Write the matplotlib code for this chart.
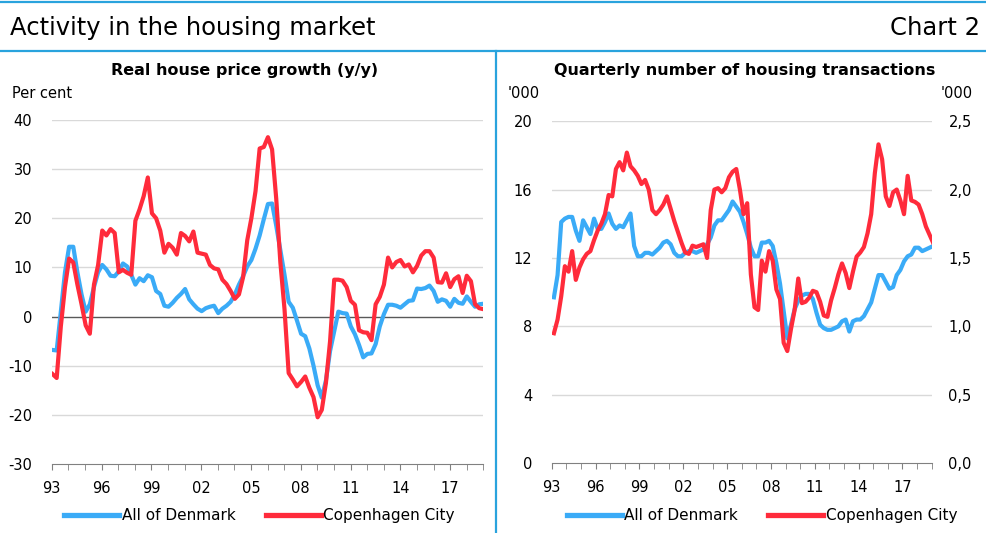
import numpy as np
import matplotlib
matplotlib.use("Agg")
import matplotlib.pyplot as plt
from matplotlib.lines import Line2D
from matplotlib.ticker import FuncFormatter

# Real house price growth, per cent y/y (quarterly, 1993Q1 - 2019Q1)
price_denmark = [
    -6.8, -6.9, 1.0, 9.0, 14.2, 14.2, 9.0, 4.5, 1.0, 2.5, 6.0, 9.0,
    10.5, 9.6, 8.3, 8.2, 9.2, 10.8, 10.2, 8.5, 6.5, 7.8, 7.2, 8.4,
    8.0, 5.2, 4.6, 2.2, 2.0, 2.8, 3.8, 4.6, 5.6, 3.5, 2.5, 1.6,
    1.1, 1.7, 2.0, 2.2, 0.7, 1.6, 2.2, 3.0, 4.5, 6.5, 8.2, 10.2,
    11.5, 13.8, 16.5, 19.8, 22.9, 23.0, 18.5, 13.5, 8.5, 3.0, 1.8, -0.8,
    -3.5, -4.0, -6.5, -10.0, -14.0, -16.5, -13.0, -7.0, -3.0, 1.0, 0.7, 0.6,
    -2.0, -3.6, -5.8, -8.3, -7.6, -7.5, -5.6, -2.0, 0.5, 2.4, 2.4, 2.2,
    1.8, 2.5, 3.2, 3.3, 5.7, 5.6, 5.8, 6.3, 5.2, 3.0, 3.5, 3.2,
    2.0, 3.6, 2.8, 2.6, 4.1, 3.0, 2.0, 2.5, 2.6]
price_copenhagen = [
    -11.7, -12.5, -2.0, 6.0, 11.8, 11.0, 6.5, 2.5, -1.8, -3.5, 6.5, 10.5,
    17.5, 16.5, 17.8, 17.0, 9.0, 9.5, 8.9, 8.5, 19.5, 21.8, 24.5, 28.3,
    21.0, 20.0, 17.5, 13.0, 14.8, 14.0, 12.6, 17.0, 16.4, 15.3, 17.3, 13.0,
    12.8, 12.6, 10.5, 9.8, 9.6, 7.5, 6.6, 5.2, 3.6, 4.5, 8.0, 15.5,
    20.0, 25.5, 34.2, 34.5, 36.5, 34.0, 24.0, 11.0, 1.5, -11.5, -12.8, -14.2,
    -13.3, -12.2, -14.5, -16.4, -20.5, -19.0, -13.5, -5.0, 7.5, 7.5, 7.3, 6.0,
    3.2, 2.4, -2.8, -3.2, -3.3, -4.8, 2.5, 4.0, 6.5, 12.0, 10.0, 11.1,
    11.5, 10.2, 10.6, 9.0, 10.3, 12.4, 13.3, 13.3, 12.0, 7.0, 6.9, 8.8,
    6.0, 7.6, 8.2, 4.8, 8.3, 7.2, 2.5, 1.7, 1.5]

# Quarterly number of housing transactions, '000
trans_denmark = [
    9.7, 11.0, 14.1, 14.3, 14.4, 14.4, 13.6, 13.0, 14.2, 13.8, 13.4, 14.3,
    13.7, 13.7, 14.1, 14.6, 14.0, 13.7, 13.9, 13.8, 14.2, 14.6, 12.7, 12.1,
    12.1, 12.3, 12.3, 12.2, 12.4, 12.6, 12.9, 13.0, 12.8, 12.3, 12.1, 12.1,
    12.3, 12.4, 12.4, 12.3, 12.4, 12.5, 12.8, 13.2, 13.9, 14.2, 14.2, 14.5,
    14.8, 15.3, 15.0, 14.7, 14.1, 13.4, 12.6, 12.1, 12.1, 12.9, 12.9, 13.0,
    12.7, 11.7, 10.5, 8.9, 7.3, 8.1, 9.0, 9.5, 9.8, 9.9, 9.9, 9.6,
    8.8, 8.1, 7.9, 7.8, 7.8, 7.9, 8.0, 8.3, 8.4, 7.7, 8.3, 8.4,
    8.4, 8.6, 9.0, 9.4, 10.2, 11.0, 11.0, 10.6, 10.2, 10.3, 11.0, 11.3,
    11.8, 12.1, 12.2, 12.6, 12.6, 12.4, 12.5, 12.6, 12.7]
trans_copenhagen = [
    0.95, 1.05, 1.22, 1.44, 1.40, 1.55, 1.34, 1.43, 1.49, 1.53, 1.55, 1.63,
    1.70, 1.75, 1.82, 1.96, 1.95, 2.15, 2.20, 2.14, 2.27, 2.17, 2.14, 2.10,
    2.04, 2.07, 2.00, 1.85, 1.82, 1.85, 1.89, 1.95, 1.86, 1.77, 1.69, 1.61,
    1.54, 1.53, 1.59, 1.58, 1.59, 1.60, 1.50, 1.85, 2.00, 2.01, 1.98, 2.01,
    2.09, 2.13, 2.15, 2.00, 1.82, 1.90, 1.38, 1.14, 1.12, 1.48, 1.40, 1.55,
    1.48, 1.27, 1.20, 0.88, 0.82, 0.98, 1.12, 1.35, 1.17, 1.18, 1.21, 1.26,
    1.25, 1.18, 1.08, 1.07, 1.19, 1.28, 1.38, 1.46, 1.39, 1.28, 1.40, 1.51,
    1.54, 1.58, 1.68, 1.82, 2.12, 2.33, 2.22, 1.95, 1.88, 1.98, 2.00, 1.92,
    1.82, 2.10, 1.92, 1.91, 1.89, 1.82, 1.73, 1.67, 1.61]

year_labels = ['93', '96', '99', '02', '05', '08', '11', '14', '17']
series_names = ['All of Denmark', 'Copenhagen City']

BLUE = '#3AABF7'
RED = '#FF2B3B'
FRAME = '#29A3DD'
GRID = '#D9D9D9'

plt.rcParams['font.family'] = 'DejaVu Sans'
plt.rcParams['font.size'] = 10.5
plt.rcParams['axes.unicode_minus'] = False

t_left = np.linspace(1993.05, 2019.0, len(price_denmark))
t_right = np.linspace(1993.15, 2019.1, len(trans_denmark))

fig = plt.figure(figsize=(9.87, 5.33), dpi=100)

# frame lines and header
fig.add_artist(Line2D([0, 1], [0.996, 0.996], color=FRAME, lw=1.6))
fig.add_artist(Line2D([0, 1], [0.905, 0.905], color=FRAME, lw=1.6))
fig.add_artist(Line2D([0.5025, 0.5025], [0, 0.905], color=FRAME, lw=1.6))
fig.text(0.010, 0.948, 'Activity in the housing market', fontsize=17.5, va='center')
fig.text(0.993, 0.948, 'Chart 2', fontsize=17.5, va='center', ha='right')


def style_xaxis(ax):
    ax.set_xlim(1993, 2019)
    ax.set_xticks(np.arange(1993, 2020), minor=True)
    ax.set_xticks(np.arange(1993, 2018, 3))
    ax.set_xticklabels(year_labels)
    ax.tick_params(axis='x', which='both', length=4, color='#808080', pad=8)
    for s in ['top', 'left', 'right']:
        ax.spines[s].set_visible(False)
    ax.spines['bottom'].set_color('#808080')


def add_legend(ax, xc):
    ax.legend([Line2D([], [], color=BLUE, lw=3.8), Line2D([], [], color=RED, lw=3.8)],
              series_names, ncol=2, frameon=False, fontsize=11, handlelength=3.6,
              handletextpad=0.15, columnspacing=2.0, loc='center',
              bbox_to_anchor=(xc, 0.032), bbox_transform=fig.transFigure)


# left panel
ax1 = fig.add_axes([0.0524, 0.1295, 0.4373, 0.6454])
ax1.plot(t_left, price_denmark, color=BLUE, lw=3.0, solid_joinstyle='round')
ax1.plot(t_left, price_copenhagen, color=RED, lw=3.0, solid_joinstyle='round')
ax1.set_ylim(-30, 40)
ax1.set_yticks(np.arange(-30, 41, 10))
for v in range(-20, 41, 10):
    ax1.axhline(v, color='#595959' if v == 0 else GRID, lw=1.0, zorder=0)
ax1.tick_params(axis='y', length=0, pad=14)
style_xaxis(ax1)
fig.text(0.248, 0.867, 'Real house price growth (y/y)', fontsize=11.5,
         fontweight='bold', ha='center', va='center')
fig.text(0.012, 0.824, 'Per cent', va='center')
add_legend(ax1, 0.263)

# right panel
ax2 = fig.add_axes([0.559, 0.1308, 0.385, 0.642])
ax2.plot(t_right, trans_denmark, color=BLUE, lw=3.0, solid_joinstyle='round', zorder=3)
ax2.set_ylim(0, 20)
ax2.set_yticks(np.arange(0, 21, 4))
for v in range(4, 21, 4):
    ax2.axhline(v, color=GRID, lw=1.0, zorder=0)
ax2.tick_params(axis='y', length=0, pad=14)
style_xaxis(ax2)
fig.text(0.755, 0.867, 'Quarterly number of housing transactions', fontsize=11.5,
         fontweight='bold', ha='center', va='center')

ax3 = ax2.twinx()
ax3.plot(t_right, trans_copenhagen, color=RED, lw=3.0, solid_joinstyle='round')
ax3.set_ylim(0, 2.5)
ax3.set_yticks(np.arange(0, 2.51, 0.5))
ax3.yaxis.set_major_formatter(FuncFormatter(lambda v, p: f'{v:.1f}'.replace('.', ',')))
ax3.tick_params(axis='y', length=0, pad=12)
for s in ['top', 'left', 'right', 'bottom']:
    ax3.spines[s].set_visible(False)

fig.text(0.547, 0.824, "'000", va='center', ha='right')
fig.text(0.953, 0.824, "'000", va='center', ha='left')
add_legend(ax2, 0.772)

fig.savefig('out.png', dpi=100)
